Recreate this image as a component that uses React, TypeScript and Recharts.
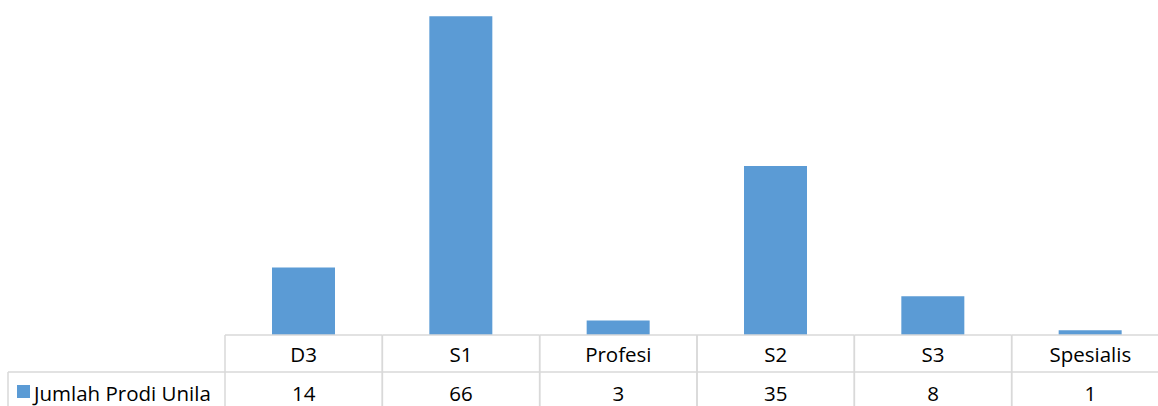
import { BarChart, Bar, XAxis, YAxis } from 'recharts';

const categories = ['D3', 'S1', 'Profesi', 'S2', 'S3', 'Spesialis'];
const jumlahProdi = [14, 66, 3, 35, 8, 1];
const seriesName = 'Jumlah Prodi Unila';

const BAR_COLOR = '#5B9BD5';
const GRID = '#D9D9D9';
const FONT = '"Open Sans", "Noto Sans", sans-serif';
const FONT_SIZE = 20.5;

// the original table runs past the right edge of the picture, so the chart is
// a bit wider than the visible box and gets clipped
const VIEW_W = 1158;
const WIDTH = 1170;
const HEIGHT = 406;
const PLOT_LEFT = 225;
const PLOT_RIGHT = 1;
const TABLE_H = 71;
const BAND = (WIDTH - PLOT_LEFT - PLOT_RIGHT) / categories.length;

const chartData = categories.map((name, i) => ({ name, value: jumlahProdi[i] }));

// draws one column of the data table under the bars
function TableTick(props: any) {
  const { x, y, payload } = props;
  const idx = payload.index;
  const left = x - BAND / 2;
  const right = x + BAND / 2;
  const row1 = y + 37;
  return (
    <g>
      <line x1={left} y1={y} x2={right} y2={y} stroke={GRID} strokeWidth={1.5} />
      <line x1={left} y1={row1} x2={right} y2={row1} stroke={GRID} strokeWidth={1.5} />
      <line x1={left} y1={y} x2={left} y2={HEIGHT} stroke={GRID} strokeWidth={1.5} />
      <line x1={right} y1={y} x2={right} y2={HEIGHT} stroke={GRID} strokeWidth={1.5} />
      <text x={x} y={y + 19} textAnchor="middle" dominantBaseline="central" fontFamily={FONT} fontSize={FONT_SIZE} fill="#000">
        {payload.value}
      </text>
      <text x={x} y={row1 + 21} textAnchor="middle" dominantBaseline="central" fontFamily={FONT} fontSize={FONT_SIZE} fill="#000">
        {jumlahProdi[idx]}
      </text>
      {idx === 0 && (
        <g>
          <line x1={8} y1={row1} x2={left} y2={row1} stroke={GRID} strokeWidth={1.5} />
          <line x1={8} y1={row1} x2={8} y2={HEIGHT} stroke={GRID} strokeWidth={1.5} />
          <rect x={17} y={row1 + 13} width={13} height={13} fill={BAR_COLOR} />
          <text x={34} y={row1 + 21} dominantBaseline="central" fontFamily={FONT} fontSize={FONT_SIZE} fill="#000">
            {seriesName}
          </text>
        </g>
      )}
    </g>
  );
}

export default function App() {
  return (
    <div
      style={{
        position: 'absolute',
        left: 0,
        top: 0,
        width: VIEW_W,
        height: HEIGHT,
        overflow: 'hidden',
        background: '#fff',
      }}
    >
      <BarChart
        width={WIDTH}
        height={HEIGHT}
        data={chartData}
        margin={{ top: -3, right: PLOT_RIGHT, left: PLOT_LEFT, bottom: 0 }}
      >
        <XAxis
          dataKey="name"
          height={TABLE_H}
          axisLine={false}
          tickLine={false}
          tickSize={0}
          tickMargin={0}
          interval={0}
          tick={<TableTick />}
        />
        <YAxis hide domain={[0, 70]} />
        <Bar dataKey="value" fill={BAR_COLOR} barSize={63} isAnimationActive={false} />
      </BarChart>
    </div>
  );
}
